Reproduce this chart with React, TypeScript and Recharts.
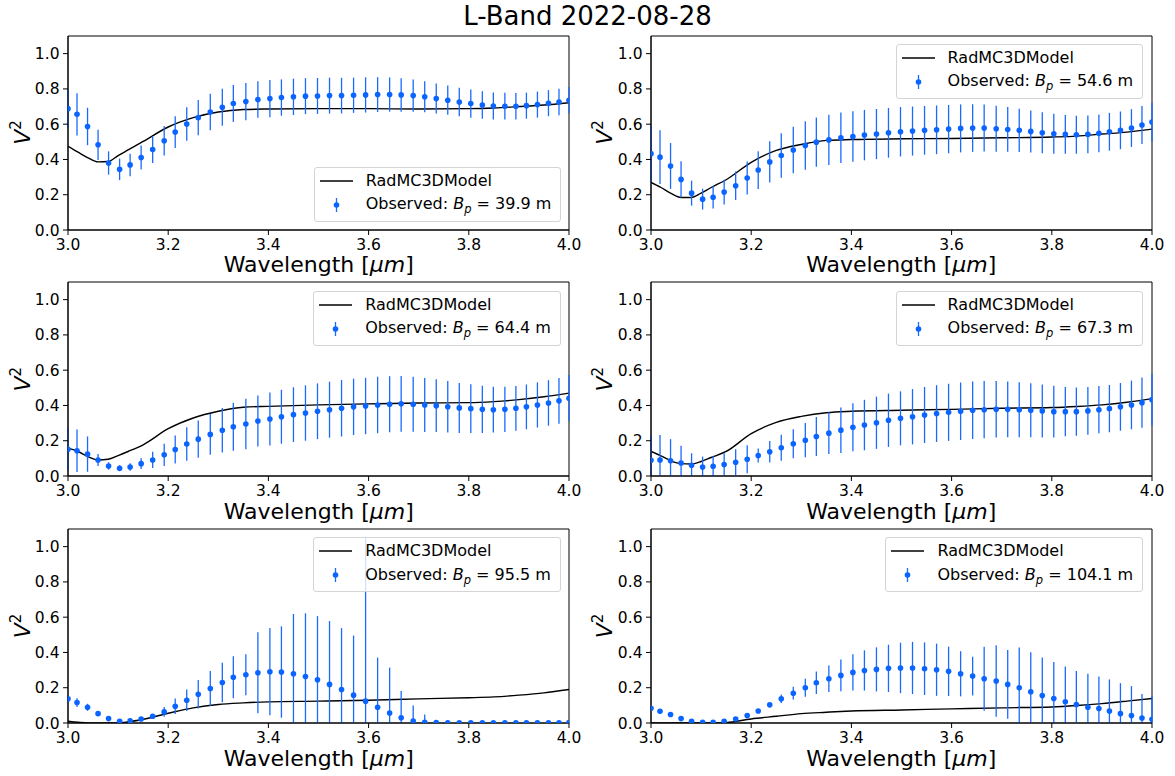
import React from "react";
import {
  ComposedChart,
  Line,
  Scatter,
  ErrorBar,
  XAxis,
  YAxis,
  ReferenceArea,
} from "recharts";

// ---------- data ----------
const WAVELENGTHS = [
  3.0, 3.018, 3.039, 3.06, 3.081, 3.103, 3.124, 3.146, 3.169, 3.192, 3.214, 3.237, 3.26, 3.284, 3.308,
  3.33, 3.355, 3.379, 3.403, 3.426, 3.45, 3.474, 3.498, 3.522, 3.546, 3.57, 3.594, 3.618, 3.642, 3.665,
  3.689, 3.712, 3.735, 3.758, 3.781, 3.804, 3.827, 3.849, 3.872, 3.894, 3.915, 3.937, 3.959, 3.98, 4.0,
];

const OBS_1 = [
  0.688, 0.656, 0.587, 0.483, 0.38, 0.344, 0.369, 0.411, 0.456, 0.506, 0.555, 0.601, 0.637, 0.669, 0.696,
  0.717, 0.728, 0.74, 0.745, 0.751, 0.755, 0.759, 0.76, 0.762, 0.762, 0.764, 0.766, 0.768, 0.768, 0.766,
  0.762, 0.755, 0.745, 0.736, 0.726, 0.717, 0.709, 0.703, 0.702, 0.702, 0.705, 0.711, 0.719, 0.726, 0.736,
];
const ERR_1 = [
  0.11, 0.12, 0.106, 0.086, 0.066, 0.061, 0.064, 0.068, 0.076, 0.084, 0.09, 0.095, 0.1, 0.103, 0.105,
  0.105, 0.105, 0.104, 0.105, 0.103, 0.103, 0.102, 0.102, 0.102, 0.101, 0.1, 0.1, 0.099, 0.097, 0.095,
  0.092, 0.088, 0.085, 0.083, 0.081, 0.08, 0.078, 0.077, 0.076, 0.075, 0.074, 0.074, 0.074, 0.075, 0.075,
];

const OBS_2 = [
  0.433, 0.413, 0.363, 0.287, 0.209, 0.175, 0.186, 0.215, 0.251, 0.295, 0.34, 0.386, 0.422, 0.454, 0.479,
  0.498, 0.511, 0.523, 0.53, 0.538, 0.544, 0.551, 0.557, 0.561, 0.565, 0.568, 0.572, 0.576, 0.578, 0.578,
  0.574, 0.57, 0.565, 0.559, 0.551, 0.546, 0.542, 0.54, 0.542, 0.548, 0.557, 0.565, 0.578, 0.595, 0.612,
];
const ERR_2 = [
  0.16, 0.152, 0.13, 0.103, 0.071, 0.059, 0.064, 0.07, 0.081, 0.094, 0.107, 0.117, 0.126, 0.132, 0.137,
  0.14, 0.142, 0.143, 0.143, 0.143, 0.142, 0.141, 0.14, 0.139, 0.138, 0.138, 0.137, 0.136, 0.135, 0.133,
  0.13, 0.127, 0.123, 0.119, 0.116, 0.113, 0.11, 0.108, 0.107, 0.107, 0.107, 0.107, 0.107, 0.108, 0.11,
];

const OBS_3 = [
  0.152, 0.143, 0.124, 0.091, 0.057, 0.044, 0.051, 0.07, 0.091, 0.12, 0.15, 0.181, 0.209, 0.236, 0.259,
  0.279, 0.295, 0.312, 0.323, 0.336, 0.348, 0.357, 0.367, 0.376, 0.384, 0.392, 0.397, 0.403, 0.407, 0.409,
  0.407, 0.403, 0.399, 0.392, 0.386, 0.382, 0.378, 0.376, 0.378, 0.384, 0.392, 0.403, 0.414, 0.426, 0.441,
];
const ERR_3 = [
  0.12, 0.12, 0.1, 0.034, 0.021, 0.017, 0.021, 0.031, 0.046, 0.063, 0.079, 0.095, 0.105, 0.115, 0.126,
  0.136, 0.143, 0.145, 0.15, 0.153, 0.155, 0.157, 0.158, 0.159, 0.16, 0.16, 0.16, 0.16, 0.159, 0.158,
  0.156, 0.153, 0.15, 0.146, 0.142, 0.138, 0.134, 0.13, 0.128, 0.127, 0.127, 0.128, 0.129, 0.13, 0.131,
];

const OBS_4 = [
  0.089, 0.091, 0.086, 0.074, 0.061, 0.051, 0.055, 0.065, 0.078, 0.095, 0.116, 0.137, 0.16, 0.183, 0.203,
  0.224, 0.243, 0.26, 0.276, 0.289, 0.302, 0.316, 0.327, 0.336, 0.346, 0.354, 0.361, 0.367, 0.373, 0.376,
  0.378, 0.378, 0.376, 0.373, 0.369, 0.365, 0.365, 0.365, 0.369, 0.376, 0.382, 0.392, 0.403, 0.416, 0.433,
];
const ERR_4 = [
  0.14, 0.141, 0.123, 0.097, 0.068, 0.059, 0.059, 0.064, 0.074, 0.08, 0.04, 0.061, 0.074, 0.082, 0.097,
  0.11, 0.118, 0.129, 0.136, 0.143, 0.148, 0.151, 0.153, 0.157, 0.159, 0.161, 0.162, 0.163, 0.163, 0.162,
  0.16, 0.158, 0.156, 0.153, 0.15, 0.147, 0.14, 0.137, 0.135, 0.134, 0.134, 0.135, 0.138, 0.143, 0.147,
];

const OBS_5 = [
  0.137, 0.116, 0.089, 0.053, 0.025, 0.01, 0.013, 0.023, 0.038, 0.063, 0.095, 0.129, 0.163, 0.196, 0.23,
  0.259, 0.274, 0.285, 0.291, 0.289, 0.279, 0.264, 0.245, 0.219, 0.19, 0.158, 0.124, 0.089, 0.057, 0.03,
  0.011, 0.004, 0.002, 0.001, 0.001, 0.001, 0.001, 0.001, 0.001, 0.001, 0.001, 0.001, 0.001, 0.001, 0.002,
];
const ERR_5 = [
  0.02, 0.025, 0.02, 0.01, 0.006, 0.005, 0.006, 0.007, 0.012, 0.028, 0.044, 0.061, 0.081, 0.099, 0.112,
  0.119, 0.116, 0.23, 0.247, 0.259, 0.339, 0.358, 0.361, 0.359, 0.348, 0.338, 0.931, 0.282, 0.257, 0.151,
  0.088, 0.044, 0.003, 0.003, 0.003, 0.003, 0.003, 0.003, 0.003, 0.003, 0.003, 0.003, 0.003, 0.003, 0.003,
];

const OBS_6 = [
  0.084, 0.067, 0.048, 0.025, 0.01, 0.004, 0.004, 0.01, 0.023, 0.042, 0.068, 0.103, 0.137, 0.169, 0.2,
  0.228, 0.251, 0.27, 0.287, 0.298, 0.304, 0.31, 0.312, 0.312, 0.308, 0.302, 0.293, 0.279, 0.266, 0.251,
  0.238, 0.219, 0.2, 0.177, 0.156, 0.139, 0.12, 0.105, 0.089, 0.082, 0.068, 0.053, 0.042, 0.028, 0.021,
];
const ERR_6 = [
  0.004, 0.004, 0.004, 0.004, 0.003, 0.003, 0.003, 0.004, 0.006, 0.008, 0.008, 0.01, 0.024, 0.036, 0.051,
  0.064, 0.075, 0.09, 0.103, 0.114, 0.125, 0.134, 0.143, 0.148, 0.149, 0.148, 0.14, 0.128, 0.11, 0.182,
  0.203, 0.195, 0.228, 0.224, 0.215, 0.207, 0.2, 0.19, 0.19, 0.182, 0.179, 0.173, 0.167, 0.137, 0.13,
];

const MODEL_X = [
  3.0, 3.02, 3.04, 3.06, 3.08, 3.1, 3.12, 3.15, 3.2, 3.25, 3.3, 3.35, 3.4, 3.5, 3.6, 3.7, 3.8, 3.85, 3.9, 3.95, 4.0,
];
const MODEL_1 = [0.475, 0.441, 0.409, 0.386, 0.388, 0.422, 0.454, 0.502, 0.584, 0.637, 0.669, 0.683, 0.686, 0.688, 0.688, 0.686, 0.688, 0.692, 0.7, 0.709, 0.722];
const MODEL_2 = [0.27, 0.241, 0.207, 0.184, 0.184, 0.209, 0.241, 0.285, 0.384, 0.451, 0.485, 0.508, 0.513, 0.517, 0.519, 0.523, 0.527, 0.532, 0.544, 0.555, 0.572];
const MODEL_3 = [0.158, 0.139, 0.11, 0.091, 0.095, 0.116, 0.139, 0.177, 0.268, 0.329, 0.367, 0.39, 0.395, 0.403, 0.409, 0.414, 0.416, 0.422, 0.433, 0.449, 0.47];
const MODEL_4 = [0.139, 0.114, 0.086, 0.07, 0.068, 0.082, 0.105, 0.139, 0.24, 0.304, 0.338, 0.359, 0.367, 0.373, 0.378, 0.384, 0.388, 0.394, 0.403, 0.418, 0.439];
const MODEL_5 = [0.01, 0.004, 0.0, 0.0, 0.0, 0.0, 0.006, 0.021, 0.055, 0.086, 0.105, 0.114, 0.12, 0.124, 0.129, 0.137, 0.143, 0.148, 0.158, 0.171, 0.19];
const MODEL_6 = [0.0, 0.0, 0.0, 0.0, 0.0, 0.0, 0.0, 0.002, 0.023, 0.038, 0.053, 0.061, 0.068, 0.074, 0.08, 0.086, 0.091, 0.099, 0.11, 0.124, 0.139];

const BASELINES = ["39.9", "54.6", "64.4", "67.3", "95.5", "104.1"];
const X_TICKS = [3.0, 3.2, 3.4, 3.6, 3.8, 4.0];
const Y_TICKS = [0, 0.2, 0.4, 0.6, 0.8, 1.0];
const Y_MIN = 0;
const Y_MAX = 1.1;
const TITLE = "L-Band 2022-08-28";
const MODEL_NAME = "RadMC3DModel";

// ---------- layout / style ----------
const FONT = "'DejaVu Sans', sans-serif";
const BLUE = "#0a64ff";
const BAR_BLUE = "#1a6aff";
const COL_LEFT = [68.3, 650.7];
const ROW_TOP = [35.5, 282.3, 529];
const PLOT_W = 501;
const PLOT_H = 194;
const M_LEFT = 28;
const Y_W = 40;
const M_TOP = 5;
const M_RIGHT = 18;
const X_H = 45;

const PANELS = [
  { obs: OBS_1, err: ERR_1, model: MODEL_1, legend: "lower" },
  { obs: OBS_2, err: ERR_2, model: MODEL_2, legend: "upper" },
  { obs: OBS_3, err: ERR_3, model: MODEL_3, legend: "upper" },
  { obs: OBS_4, err: ERR_4, model: MODEL_4, legend: "upper" },
  { obs: OBS_5, err: ERR_5, model: MODEL_5, legend: "upper" },
  { obs: OBS_6, err: ERR_6, model: MODEL_6, legend: "upper" },
];

const Dot = (props: any) => {
  const { cx, cy } = props;
  if (cx == null || cy == null) return null;
  return <circle cx={cx} cy={cy} r={2.8} fill={BLUE} />;
};

function LegendBox({ baseline, style }: { baseline: string; style: React.CSSProperties }) {
  return (
    <div
      style={{
        position: "absolute",
        border: "1px solid #d4d4d4",
        borderRadius: 3,
        background: "rgba(255,255,255,0.8)",
        padding: "1px 9px 4px 5px",
        fontFamily: FONT,
        fontSize: 16,
        lineHeight: "24px",
        color: "#000",
        whiteSpace: "nowrap",
        ...style,
      }}
    >
      <div style={{ display: "flex", alignItems: "center", height: 24 }}>
        <svg width={33} height={24} style={{ display: "block" }}>
          <line x1={0} x2={33} y1={12} y2={12} stroke="#000" strokeWidth={1.4} />
        </svg>
        <span style={{ marginLeft: 13 }}>{MODEL_NAME}</span>
      </div>
      <div style={{ display: "flex", alignItems: "center", height: 24 }}>
        <svg width={33} height={24} style={{ display: "block" }}>
          <line x1={16.5} x2={16.5} y1={5} y2={19} stroke={BAR_BLUE} strokeWidth={1.3} />
          <circle cx={16.5} cy={12} r={2.8} fill={BLUE} />
        </svg>
        <span style={{ marginLeft: 13 }}>
          Observed: <i>B</i>
          <i style={{ fontSize: 11.5, position: "relative", top: 4 }}>p</i> = {baseline} m
        </span>
      </div>
    </div>
  );
}

function Panel({ idx }: { idx: number }) {
  const p = PANELS[idx];
  const r = Math.floor(idx / 2);
  const c = idx % 2;
  const plotLeft = COL_LEFT[c];
  const plotTop = ROW_TOP[r];
  // error bars are cut at the axes' limits, as the plot area clips them
  const obsData = WAVELENGTHS.map((x, i) => {
    const y = p.obs[i];
    const e = p.err[i];
    return { x, y, errRange: [Math.min(e, y - Y_MIN), Math.min(e, Y_MAX - y)] };
  });
  const modelData = MODEL_X.map((x, i) => ({ x, v: p.model[i] }));
  const chartW = M_LEFT + Y_W + PLOT_W + M_RIGHT;
  const chartH = M_TOP + PLOT_H + X_H;
  const legendStyle: React.CSSProperties =
    p.legend === "lower"
      ? { right: 1175 - (plotLeft + PLOT_W) + 8, bottom: 776 - (plotTop + PLOT_H) + 8 }
      : { right: 1175 - (plotLeft + PLOT_W) + 8.5, top: plotTop + 8.3 };
  return (
    <>
      <div
        style={{
          position: "absolute",
          left: plotLeft - M_LEFT - Y_W,
          top: plotTop - M_TOP,
          width: chartW,
          height: chartH,
        }}
      >
        <ComposedChart
          width={chartW}
          height={chartH}
          margin={{ top: M_TOP, right: M_RIGHT, left: M_LEFT, bottom: 0 }}
        >
          <XAxis
            type="number"
            dataKey="x"
            domain={[3, 4]}
            ticks={X_TICKS}
            interval={0}
            allowDataOverflow
            tickFormatter={(v: number) => v.toFixed(1)}
            height={X_H}
            tickSize={5}
            tickMargin={4}
            stroke="#000"
            tick={{ fill: "#000", fontSize: 15.5, fontFamily: FONT }}
          />
          <YAxis
            type="number"
            domain={[Y_MIN, Y_MAX]}
            ticks={Y_TICKS}
            interval={0}
            allowDataOverflow
            tickFormatter={(v: number) => v.toFixed(1)}
            width={Y_W}
            tickSize={5}
            tickMargin={3.5}
            stroke="#000"
            tick={{ fill: "#000", fontSize: 15.5, fontFamily: FONT }}
          />
          <Line
            data={modelData}
            dataKey="v"
            type="monotone"
            stroke="#000"
            strokeWidth={1.4}
            dot={false}
            activeDot={false}
            isAnimationActive={false}
          />
          <Scatter data={obsData} dataKey="y" fill={BLUE} shape={<Dot />} isAnimationActive={false}>
            <ErrorBar dataKey="errRange" direction="y" width={0} stroke={BAR_BLUE} strokeWidth={1.3} isAnimationActive={false} />
          </Scatter>
          <ReferenceArea x1={3} x2={4} y1={Y_MIN} y2={Y_MAX} fill="none" stroke="#000" strokeWidth={1} fillOpacity={0} />
        </ComposedChart>
      </div>
      <LegendBox baseline={BASELINES[idx]} style={legendStyle} />
    </>
  );
}

export default function App() {
  return (
    <div
      style={{
        position: "absolute",
        left: 0,
        top: 0,
        width: 1175,
        height: 776,
        background: "#fff",
        overflow: "hidden",
        fontFamily: FONT,
      }}
    >
      <svg width={1175} height={776} style={{ position: "absolute", left: 0, top: 0 }}>
        <text x={587.5} y={25} textAnchor="middle" fontSize={26} fontFamily={FONT} fill="#000">
          {TITLE}
        </text>
        {PANELS.map((_, idx) => {
          const r = Math.floor(idx / 2);
          const c = idx % 2;
          const pl = COL_LEFT[c];
          const pt = ROW_TOP[r];
          return (
            <g key={idx}>
              <text
                x={pl + PLOT_W / 2}
                y={pt + PLOT_H + 42.6}
                textAnchor="middle"
                fontSize={22}
                fontFamily={FONT}
                fill="#000"
              >
                Wavelength [<tspan fontStyle="italic">μm</tspan>]
              </text>
              <text
                transform={`translate(${pl - 38.5}, ${pt + PLOT_H / 2}) rotate(-90)`}
                textAnchor="middle"
                fontSize={22}
                fontFamily={FONT}
                fill="#000"
              >
                <tspan fontStyle="italic">V</tspan>
                <tspan fontSize={15} dy={-9}>2</tspan>
              </text>
            </g>
          );
        })}
      </svg>
      {PANELS.map((_, idx) => (
        <Panel key={idx} idx={idx} />
      ))}
    </div>
  );
}
